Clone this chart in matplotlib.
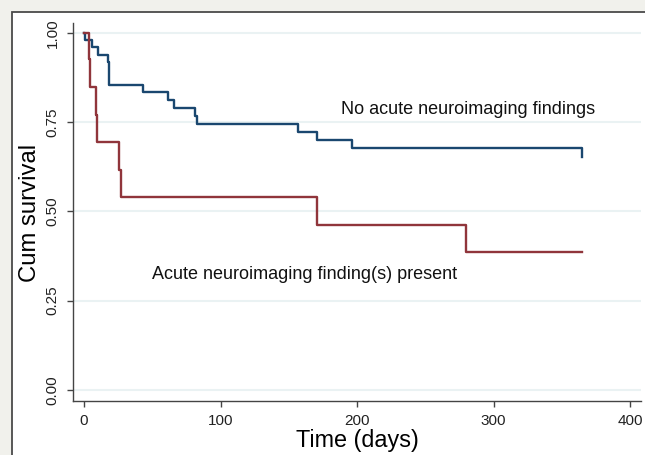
import matplotlib
matplotlib.use("Agg")
import matplotlib.pyplot as plt
from matplotlib.patches import Rectangle

plt.rcParams['font.family'] = ['Liberation Sans', 'DejaVu Sans']

# Kaplan-Meier steps
t_none = [0, 0.7, 6, 10.5, 17.3, 18, 18.5, 43.5, 61.8, 66, 81.3, 82.5, 156.4, 171, 196.6, 365, 365]
s_none = [1.0, 0.979, 0.959, 0.938, 0.917, 0.875, 0.854, 0.833, 0.812, 0.789, 0.767, 0.745, 0.722, 0.700, 0.678, 0.678, 0.651]

t_acute = [0, 3.9, 4.6, 8.8, 9.5, 25.4, 26.8, 170.4, 280, 365]
s_acute = [1.0, 0.925, 0.848, 0.770, 0.695, 0.615, 0.540, 0.463, 0.385, 0.385]

yticks = [0, 0.25, 0.5, 0.75, 1.0]
ylabels = ['0.00', '0.25', '0.50', '0.75', '1.00']
xticks = [0, 100, 200, 300, 400]

W, H = 645, 455
fig = plt.figure(figsize=(W / 100, H / 100), dpi=100)
fig.patch.set_facecolor('#f1f1ec')
# white panel with dark frame
fig.patches.append(Rectangle((12 / W, -0.05), 1.1, 1 - 12 / H + 0.05,
                             transform=fig.transFigure, facecolor='white',
                             edgecolor='#4a4a4a', linewidth=1.3, zorder=-10))

ax = fig.add_axes([73 / W, 1 - 401 / H, (641 - 73) / W, (401 - 22.7) / H])
ax.set_facecolor('none')

for y in yticks:
    ax.axhline(y, color='#eaf2f3', lw=1.5, zorder=1)

ax.step(t_none, s_none, where='post', color='#1a476f', lw=1.7, zorder=3)
ax.step(t_acute, s_acute, where='post', color='#90353b', lw=1.7, zorder=4)

ax.text(281, 0.784, 'No acute neuroimaging findings', fontsize=13,
        ha='center', va='center', color='#111111')
ax.text(49.6, 0.323, 'Acute neuroimaging finding(s) present', fontsize=13,
        ha='left', va='center', color='#111111')

ax.set_xlim(-8.06, 408)
ax.set_ylim(-0.031, 1.028)
ax.set_xticks(xticks)
ax.set_yticks(yticks)
ax.set_yticklabels(ylabels, rotation=90, va='center')

for side in ['top', 'right']:
    ax.spines[side].set_visible(False)
for side in ['left', 'bottom']:
    ax.spines[side].set_color('#444444')
    ax.spines[side].set_linewidth(1.0)

ax.tick_params(axis='both', colors='#444444', labelcolor='#222222',
               labelsize=11, length=4.5, width=1.0, pad=5)

fig.text(30 / W, 1 - 213 / H, 'Cum survival', rotation=90, fontsize=17.2,
         ha='center', va='center')
fig.text(357 / W, 1 - 440 / H, 'Time (days)', fontsize=16.8,
         ha='center', va='center')

fig.savefig('out.png', dpi=100, facecolor=fig.get_facecolor())
